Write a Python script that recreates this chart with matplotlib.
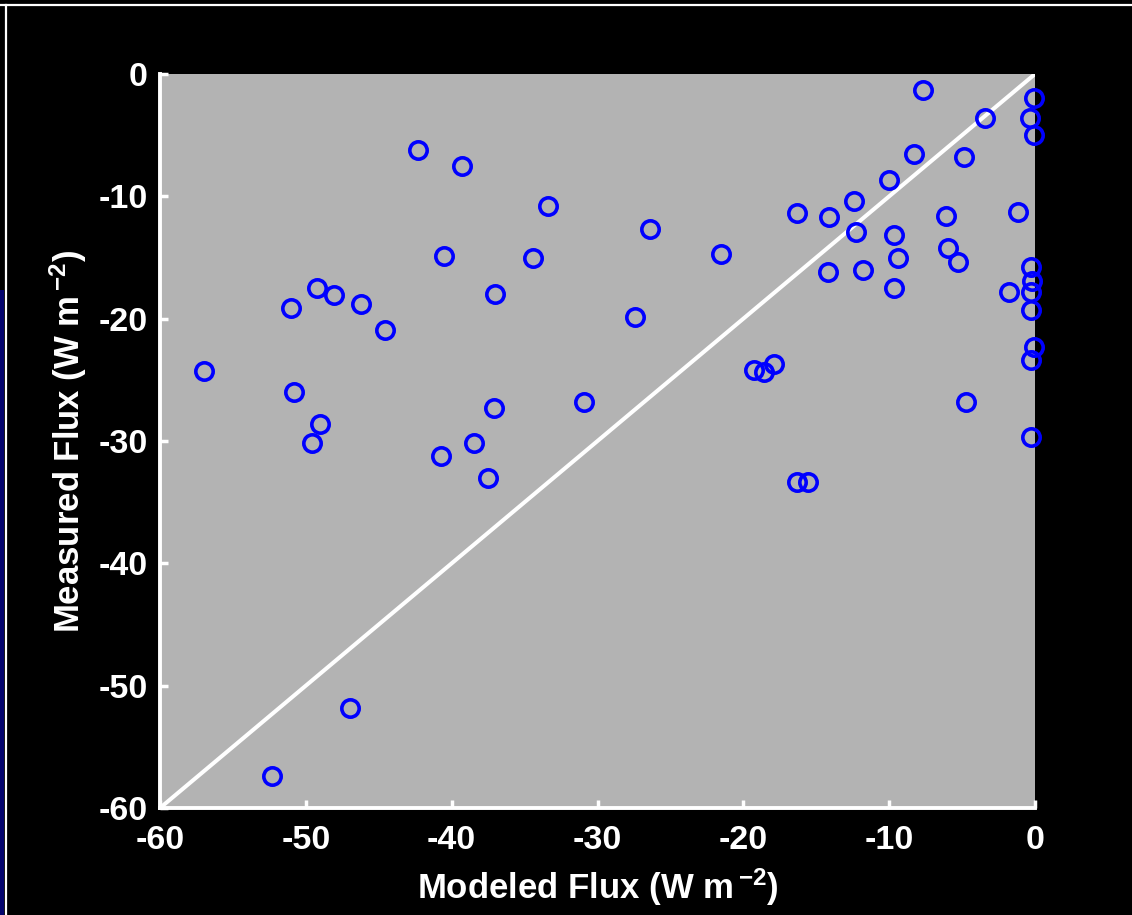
import matplotlib
matplotlib.use("Agg")
import matplotlib.pyplot as plt
from matplotlib.patches import Rectangle
from matplotlib.lines import Line2D

plt.rcParams['font.family'] = ['Liberation Sans', 'DejaVu Sans']
plt.rcParams['font.weight'] = 'bold'
plt.rcParams['axes.unicode_minus'] = False
plt.rcParams['mathtext.fontset'] = 'custom'
plt.rcParams['mathtext.rm'] = 'Liberation Sans:bold'
plt.rcParams['mathtext.bf'] = 'Liberation Sans:bold'
plt.rcParams['mathtext.default'] = 'bf'

# modeled vs measured flux (W m-2)
modeled = [-42.3, -39.3, -33.4, -40.5, -34.4, -37.0, -49.2, -48.1, -46.2, -51.0,
           -44.6, -57.0, -50.8, -49.0, -49.6, -37.1, -30.9, -38.5, -40.7, -37.5,
           -47.0, -52.3,
           -7.7, -3.4, -0.1, -0.35, -0.1, -8.3, -4.9, -10.0, -12.4, -16.3,
           -14.1, -12.3, -1.2, -6.1, -26.4, -9.7, -6.0, -9.4, -5.3, -21.5,
           -14.2, -11.8, -9.7, -1.75, -0.25, -0.2, -0.25, -0.25, -27.4,
           -19.3, -18.6, -17.9, -0.1, -0.25, -4.75, -0.25, -16.3, -15.6]
measured = [-6.2, -7.5, -10.8, -14.9, -15.0, -18.0, -17.5, -18.1, -18.8, -19.1,
            -20.9, -24.3, -26.0, -28.6, -30.2, -27.3, -26.8, -30.2, -31.2, -33.0,
            -51.8, -57.4,
            -1.3, -3.6, -2.0, -3.6, -5.0, -6.5, -6.8, -8.7, -10.4, -11.4,
            -11.7, -12.9, -11.3, -11.6, -12.7, -13.2, -14.2, -15.0, -15.4, -14.7,
            -16.2, -16.0, -17.5, -17.8, -15.8, -16.9, -17.8, -19.3, -19.9,
            -24.2, -24.4, -23.7, -22.3, -23.4, -26.8, -29.7, -33.35, -33.35]
one_to_one = [-60, 0]
ticks = [-60, -50, -40, -30, -20, -10, 0]

fig = plt.figure(figsize=(11.32, 9.15), dpi=100, facecolor='black')
ax = fig.add_axes([160/1132, 1 - 808/915, 875/1132, 734/915])
ax.set_facecolor('#b3b3b3')

ax.plot(one_to_one, one_to_one, color='white', lw=2.9, zorder=2)
ax.plot(modeled, measured, linestyle='none', marker='o', markersize=12.5,
        markerfacecolor='none', markeredgecolor='#0000ff', markeredgewidth=2.6,
        zorder=3, clip_on=False)

ax.set_xlim(-60, 0)
ax.set_ylim(-60, 0)
ax.set_xticks(ticks)
ax.set_yticks(ticks)

for s in ['top', 'right']:
    ax.spines[s].set_visible(False)
for s in ['left', 'bottom']:
    ax.spines[s].set_color('white')
    ax.spines[s].set_linewidth(2.8)

ax.tick_params(direction='in', length=6, width=2.5, colors='white',
               labelsize=24.5, labelcolor='white')
ax.tick_params(axis='x', pad=12)
ax.tick_params(axis='y', pad=9)
for lab in ax.get_xticklabels() + ax.get_yticklabels():
    lab.set_fontweight('bold')

ax.set_xlabel(r'Modeled Flux (W m$^{\,\mathbf{-2}}$)', fontsize=25,
              fontweight='bold', color='white', labelpad=8)
ax.set_ylabel(r'Measured Flux (W m$^{\,\mathbf{-2}}$)', fontsize=25,
              fontweight='bold', color='white', labelpad=7)

# white frame lines at top and left, and dark blue strip at left edge
fig.add_artist(Line2D([0, 1], [1 - 5/915, 1 - 5/915], color='white', lw=1.6,
                      transform=fig.transFigure))
fig.add_artist(Line2D([6/1132, 6/1132], [0, 1 - 5/915], color='white', lw=1.6,
                      transform=fig.transFigure))
fig.add_artist(Rectangle((0, 0), 4/1132, 1 - 290/915, color='#05056e',
                         transform=fig.transFigure, lw=0))

fig.savefig('out.png', dpi=100, facecolor='black')
